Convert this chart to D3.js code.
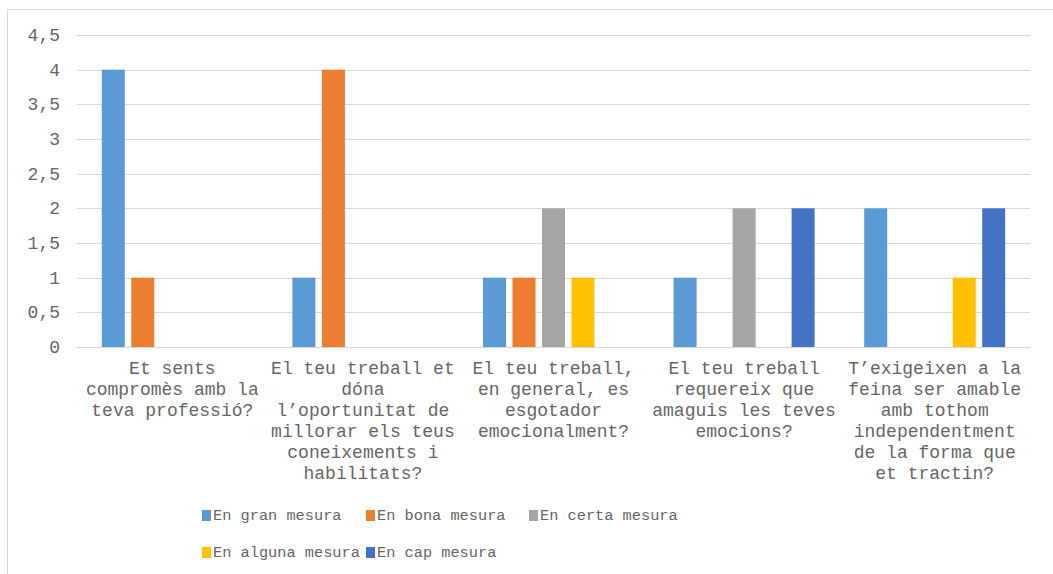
<!DOCTYPE html>
<html><head><meta charset="utf-8">
<script src="https://cdn.jsdelivr.net/npm/d3@7"></script>
<style>body{margin:0;background:#fff}svg{display:block}</style>
</head><body>
<svg id="c" width="1053" height="574"></svg>
<script>
const categories = [
  ["Et sents","compromès amb la","teva professió?"],
  ["El teu treball et","dóna","l’oportunitat de","millorar els teus","coneixements i","habilitats?"],
  ["El teu treball,","en general, es","esgotador","emocionalment?"],
  ["El teu treball","requereix que","amaguis les teves","emocions?"],
  ["T’exigeixen a la","feina ser amable","amb tothom","independentment","de la forma que","et tractin?"]
];
const seriesNames = ["En gran mesura","En bona mesura","En certa mesura","En alguna mesura","En cap mesura"];
const granMesura   = [4,1,1,1,2];
const bonaMesura   = [1,4,1,0,0];
const certaMesura  = [0,0,2,2,0];
const algunaMesura = [0,0,1,0,1];
const capMesura    = [0,0,0,2,2];
const colors = ["#5B9BD5","#ED7D31","#A5A5A5","#FFC000","#4472C4"];
const yTicks = [0,0.5,1,1.5,2,2.5,3,3.5,4,4.5];
const yTickLabels = ["0","0,5","1","1,5","2","2,5","3","3,5","4","4,5"];

const values = [granMesura,bonaMesura,certaMesura,algunaMesura,capMesura];
const svg = d3.select("#c");
const font = "'Liberation Mono','Courier New',monospace";
const textColor = "#666666";

svg.append("rect").attr("x",7.5).attr("y",9.5).attr("width",1060).attr("height",600)
  .attr("fill","none").attr("stroke","#d9d9d9");

const left = 77, right = 1030;
const y = d3.scaleLinear().domain([0,4.5]).range([347,35]);
const x0 = d3.scaleBand().domain(d3.range(categories.length)).range([left,right]).padding(0);
const outer = 24.8;
const x1 = d3.scaleBand().domain(d3.range(seriesNames.length)).range([outer, x0.bandwidth()-outer]).paddingInner(0.22).paddingOuter(0);

// gridlines
svg.append("g").selectAll("line").data(yTicks).join("line")
  .attr("x1",left).attr("x2",right)
  .attr("y1",d=>Math.round(y(d))+0.5).attr("y2",d=>Math.round(y(d))+0.5)
  .attr("stroke","#d9d9d9").attr("stroke-width",1);

// y labels
svg.append("g").selectAll("text").data(yTicks).join("text")
  .attr("x",60).attr("y",d=>y(d)+6)
  .attr("text-anchor","end").attr("font-family",font).attr("font-size",18)
  .attr("fill",textColor).text((d,i)=>yTickLabels[i]);

// bars
const g = svg.append("g");
categories.forEach((c,ci)=>{
  values.forEach((s,si)=>{
    const v = s[ci];
    if(v>0){
      g.append("rect")
        .attr("x",x0(ci)+x1(si)).attr("width",x1.bandwidth())
        .attr("y",y(v)).attr("height",y(0)-y(v))
        .attr("fill",colors[si]);
    }
  });
});

// category labels
categories.forEach((lines,ci)=>{
  const cx = x0(ci)+x0.bandwidth()/2;
  const t = svg.append("text").attr("text-anchor","middle").attr("font-family",font)
    .attr("font-size",18).attr("fill",textColor);
  lines.forEach((l,li)=>{
    t.append("tspan").attr("x",cx).attr("y",374+li*21).text(l);
  });
});

// legend
const legCols = [202,366,529];
seriesNames.forEach((n,i)=>{
  const col = i<3 ? i : i-3;
  const row = i<3 ? 0 : 1;
  const lx = legCols[col], ly = row===0 ? 515 : 552;
  svg.append("rect").attr("x",lx).attr("y",ly-5).attr("width",9).attr("height",11).attr("fill",colors[i]);
  svg.append("text").attr("x",lx+11).attr("y",ly+5).attr("font-family",font).attr("font-size",15.3)
    .attr("fill",textColor).text(n);
});
</script>
</body></html>
